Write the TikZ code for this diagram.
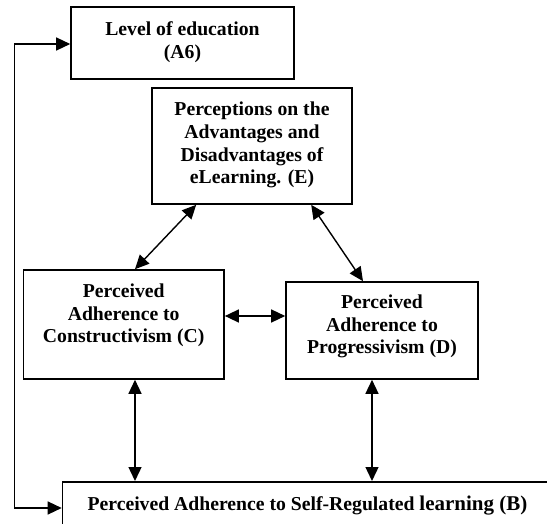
\documentclass[tikz,border=0pt]{standalone}
\usepackage{fontspec}
\setmainfont{Liberation Serif}
\usetikzlibrary{arrows.meta,calc}
\tikzset{
  box/.style={draw=black, line width=1.6pt, fill=white, inner sep=0pt},
  txt/.style={align=center, inner sep=0pt, font=\fontsize{19.7}{22.7}\selectfont\bfseries},
  link/.style={line width=1.4pt, {Triangle[length=14pt,width=13pt]}-{Triangle[length=14pt,width=13pt]}},
}
\begin{document}
\begin{tikzpicture}[x=1pt,y=-1pt]
\useasboundingbox (0,0) rectangle (547,524);
\clip (0,0) rectangle (547,524);
% boxes
\node[box, minimum width=223pt, minimum height=72pt] (A6) at (182.5,43) {};
\node[txt] (A6t) at (182.5,42) {Level of education\\(A6)};
\node[box, minimum width=200pt, minimum height=116pt] (E) at (252,146) {};
\node[txt] (Et) at (252,145) {Perceptions on the\\Advantages and\\Disadvantages of\\eLearning. (E)};
\node[box, minimum width=200.7pt, minimum height=109pt] (C) at (123.7,324.5) {};
\node[txt] (Ct) at (123.7,315.5) {Perceived\\Adherence to\\Constructivism (C)};
\node[box, minimum width=192pt, minimum height=97pt] (D) at (382,330.5) {};
\node[txt] (Dt) at (382,326.5) {Perceived\\Adherence to\\Progressivism (D)};
\node[box, anchor=north west, minimum width=600pt, minimum height=80pt] (B) at (61.7,481) {};
\node[txt] (Bt) at (307.5,506) {Perceived Adherence to Self-Regulated {\fontsize{21}{24}\selectfont learning (B)}};
% connector points
\coordinate (e1) at ([xshift=45pt]E.south west);
\coordinate (e2) at ([xshift=160pt]E.south west);
\coordinate (c1) at ([xshift=11.3pt]C.north);
\coordinate (d1) at ([xshift=-19pt]D.north);
\coordinate (cd) at ([yshift=8.5pt]C.east);
\coordinate (cb) at ([xshift=11.3pt]C.south);
\coordinate (db) at ([xshift=-10pt]D.south);
\coordinate (a6w) at ([yshift=-1pt]A6.west);
\coordinate (bw) at ([yshift=-27pt]B.north west);
\coordinate (lx) at (14.7,0);
% connectors
\draw[link] (e1) -- (c1);
\draw[link] (e2) -- (d1);
\draw[link] (cd) -- (cd -| D.west);
\draw[link] (cb) -- (cb |- B.north);
\draw[link] (db) -- (db |- B.north);
\draw[link] (a6w) -- (lx |- a6w) -- (lx |- bw) -- (bw);
\end{tikzpicture}
\end{document}
